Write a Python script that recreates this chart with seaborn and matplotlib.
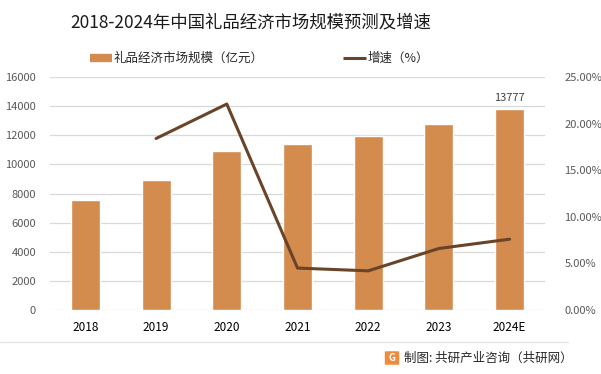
import matplotlib
matplotlib.use("Agg")
import matplotlib.pyplot as plt
import seaborn as sns
import numpy as np
import pandas as pd
from matplotlib.patches import FancyBboxPatch
from matplotlib.lines import Line2D

years = ["2018", "2019", "2020", "2021", "2022", "2023", "2024E"]
market_size = [7560, 8950, 10920, 11420, 11950, 12740, 13777]
growth_pct = [np.nan, 18.4, 22.1, 4.5, 4.2, 6.6, 7.6]
left_ticks = [0, 2000, 4000, 6000, 8000, 10000, 12000, 14000, 16000]
right_ticks = [0, 5, 10, 15, 20, 25]

title = "2018-2024年中国礼品经济市场规模预测及增速"
bar_label = "礼品经济市场规模（亿元）"
line_label = "增速（%）"
source = "制图: 共研产业咨询（共研网）"

bar_color = "#D38B4E"
line_color = "#6A4428"

sns.set_theme(style="white")
plt.rcParams['font.family'] = ['Noto Sans CJK SC', 'DejaVu Sans']

fig = plt.figure(figsize=(6.01, 3.74), dpi=100)
ax = fig.add_axes([50/601, (374-310)/374, 495/601, (310-77)/374])

df = pd.DataFrame({"year": years, "size": market_size, "growth": growth_pct})
df["pos"] = range(len(years))

sns.barplot(data=df, x="year", y="size", color=bar_color, width=0.41,
            saturation=1, ax=ax, zorder=2)
ax.set_xlim(-0.5, len(years) - 0.5)
ax.set_ylim(0, 16000)
ax.set_yticks(left_ticks)
ax.set_yticklabels([str(t) for t in left_ticks], color="#595959", fontsize=8)
ax.set_xticks(range(len(years)))
ax.set_xticklabels(years, fontsize=8.5, color="#000000")
ax.tick_params(axis="both", length=0, pad=3)
ax.tick_params(axis="y", pad=10)
ax.tick_params(axis="x", pad=8)
ax.yaxis.grid(True, color="#D9D9D9", linewidth=0.9, zorder=0)
ax.set_axisbelow(True)
for s in ax.spines.values():
    s.set_visible(False)
ax.set_xlabel("")
ax.set_ylabel("")

# data label on last bar
ax.text(len(years) - 1, market_size[-1] + 450, str(market_size[-1]),
        ha="center", va="bottom", fontsize=8, color="#404040")

ax2 = ax.twinx()
sns.lineplot(data=df.dropna(), x="pos", y="growth", color=line_color,
             linewidth=2.2, ax=ax2, zorder=3)
ax2.set_ylim(0, 25)
ax2.set_yticks(right_ticks)
ax2.set_yticklabels([f"{t:.2f}%" for t in right_ticks], color="#595959", fontsize=8)
ax2.tick_params(axis="y", length=0, pad=14)
ax2.set_xlim(-0.5, len(years) - 0.5)
for s in ax2.spines.values():
    s.set_visible(False)
ax2.set_xlabel("")
ax2.set_ylabel("")

fig.text(251/601, 1 - 22/374, title, ha="center", va="center", fontsize=12.5, color="#1a1a1a")

# legend
fig.add_artist(Line2D([90/601, 112/601], [1 - 58/374, 1 - 58/374], color=bar_color,
                      linewidth=6, solid_capstyle="butt"))
fig.text(114/601, 1 - 58/374, bar_label, ha="left", va="center", fontsize=9, color="#262626")
fig.add_artist(Line2D([343/601, 366/601], [1 - 58/374, 1 - 58/374], color=line_color,
                      linewidth=2.2, solid_capstyle="butt"))
fig.text(368/601, 1 - 58/374, line_label, ha="left", va="center", fontsize=9, color="#262626")

# separator line
fig.add_artist(Line2D([0.0, 568/601], [1 - 342/374, 1 - 342/374], color="#E3E3E3", linewidth=0.9))

# source with logo
logo = FancyBboxPatch((386/601, 1 - 364/374), 12/601, 12/374,
                      boxstyle="round,pad=0.002", transform=fig.transFigure,
                      facecolor="#F08A3C", edgecolor="none")
fig.add_artist(logo)
fig.text(392/601, 1 - 358/374, "G", ha="center", va="center", fontsize=7,
         color="white", fontweight="bold")
fig.text(404/601, 1 - 358/374, source, ha="left", va="center", fontsize=9, color="#262626")

fig.savefig("out.png", dpi=100)
